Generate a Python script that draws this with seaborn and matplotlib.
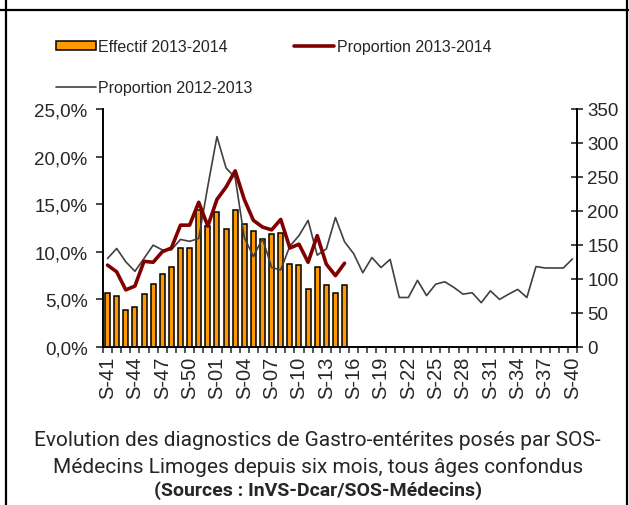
import numpy as np
import pandas as pd
import matplotlib
matplotlib.use("Agg")
import matplotlib.pyplot as plt
from matplotlib.lines import Line2D
from matplotlib.patches import Patch
import seaborn as sns

# ================= DATA =================
WEEKS = [f"S-{w:02d}" for w in list(range(41, 53)) + list(range(1, 41))]

# Effectif 2013-2014 (right axis, S-41 .. S-15)
EFFECTIF_1314 = [80, 75, 54, 59, 78, 93, 108, 117, 145, 145, 202, 178, 199, 174,
                 202, 181, 171, 159, 166, 168, 122, 120, 86, 117, 91, 80, 91]

# Proportion 2013-2014 (%, left axis)
PROP_1314 = [8.6, 7.9, 6.0, 6.4, 9.0, 8.9, 10.0, 10.4, 12.8, 12.8, 15.2, 12.7, 15.5, 16.8,
             18.5, 15.5, 13.3, 12.6, 12.3, 13.4, 10.4, 10.8, 8.9, 11.7, 8.7, 7.5, 8.8]

# Proportion 2012-2013 (%, left axis, full season)
PROP_1213 = [9.3, 10.35, 8.95, 7.95, 9.3, 10.7, 10.2, 10.2, 11.3, 11.1, 11.4,
             16.9, 22.1, 18.8, 17.8, 11.5, 9.5, 11.4, 8.35, 8.1, 10.6,
             11.7, 13.3, 9.65, 10.3, 13.6, 11.05, 9.8, 7.8, 9.4, 8.35, 9.2,
             5.2, 5.2, 7.0, 5.4, 6.6, 6.85, 6.25, 5.55, 5.7, 4.65,
             5.9, 5.0, 5.55, 6.05, 5.2, 8.45, 8.3, 8.3, 8.3, 9.25]

LEFT_TICKS = [0, 5, 10, 15, 20, 25]
RIGHT_TICKS = [0, 50, 100, 150, 200, 250, 300, 350]

TITLE_1 = "Evolution des diagnostics de Gastro-entérites posés par SOS-"
TITLE_2 = "Médecins Limoges depuis six mois, tous âges confondus"
SOURCES = "(Sources : InVS-Dcar/SOS-Médecins)"

ORANGE = "#FF9900"
DARK_RED = "#800000"
GREY = "#404040"

# ================= STYLE =================
sns.set_style("ticks")
plt.rcParams['font.family'] = ['Liberation Sans', 'DejaVu Sans']
CAPTION_FONT = ['Roboto', 'Liberation Sans', 'DejaVu Sans']

fig = plt.figure(figsize=(6.29, 5.06), dpi=100)
ax = fig.add_axes([103 / 629, 1 - 348 / 506, 474 / 629, 238 / 506])
ax2 = ax.twinx()

# bars on the secondary axis (drawn behind the lines)
df_bars = pd.DataFrame({"week": WEEKS[:len(EFFECTIF_1314)], "effectif": EFFECTIF_1314})
sns.barplot(data=df_bars, x="week", y="effectif", order=WEEKS, color=ORANGE,
            saturation=1, edgecolor="black", linewidth=1.1, width=0.55, ax=ax2)

# lines on the primary axis
sns.lineplot(x=np.arange(len(PROP_1213)), y=PROP_1213, ax=ax, color=GREY, linewidth=1.2)
sns.lineplot(x=np.arange(len(PROP_1314)), y=PROP_1314, ax=ax, color=DARK_RED, linewidth=2.6)

ax.set_zorder(ax2.get_zorder() + 1)
ax.patch.set_visible(False)

ax.set_xlim(-0.5, len(WEEKS) - 0.5)
ax.set_ylim(0, 25)
ax2.set_ylim(0, 350)

ax.set_yticks(LEFT_TICKS)
ax.set_yticklabels([f"{v:.1f}%".replace(".", ",") for v in LEFT_TICKS])
ax2.set_yticks(RIGHT_TICKS)
ax2.set_yticklabels([str(v) for v in RIGHT_TICKS])

ax.set_xticks(np.arange(0, len(WEEKS), 3))
ax.set_xticklabels(WEEKS[::3], rotation=90)
ax.set_xticks(np.arange(-0.5, len(WEEKS), 1), minor=True)

ax.tick_params(axis='x', which='major', length=0, pad=6, labelsize=14.5)
ax.tick_params(axis='x', which='minor', length=4, width=1.1, direction='out', bottom=True)
ax.tick_params(axis='y', direction='out', length=5, width=1.2, pad=6, labelsize=13.5, left=True)
ax2.tick_params(axis='y', direction='inout', length=9, width=1.2, pad=3, labelsize=13.5, right=True)

for a in (ax, ax2):
    a.set_xlabel("")
    a.set_ylabel("")
    a.spines['top'].set_visible(False)
    for s in ('left', 'right', 'bottom'):
        a.spines[s].set_linewidth(1.2)
        a.spines[s].set_color("black")

# legend
handles = [Patch(facecolor=ORANGE, edgecolor="black", linewidth=1.1),
           Line2D([], [], color=GREY, linewidth=1.2),
           Line2D([], [], color=DARK_RED, linewidth=2.6)]
labels = ["Effectif 2013-2014", "Proportion 2012-2013", "Proportion 2013-2014"]
fig.legend(handles, labels, ncol=2, loc="upper left", bbox_to_anchor=(56 / 629, 1 - 40 / 506),
           frameon=False, fontsize=11.5, handlelength=2.5, handleheight=0.45,
           handletextpad=0.15, columnspacing=2.6, labelspacing=1.6,
           borderpad=0, borderaxespad=0)

# caption
fig.text(0.505, 1 - 441 / 506, TITLE_1, ha="center", va="center", fontsize=15,
         family=CAPTION_FONT)
fig.text(0.505, 1 - 467 / 506, TITLE_2, ha="center", va="center", fontsize=15,
         family=CAPTION_FONT)
fig.text(0.505, 1 - 491 / 506, SOURCES, ha="center", va="center", fontsize=14,
         fontweight="bold", family=CAPTION_FONT)

# frame of the surrounding table cell
fig.add_artist(Line2D([0, 1], [1 - 11 / 506, 1 - 11 / 506], color="black", linewidth=1.6))
fig.add_artist(Line2D([6 / 629, 6 / 629], [0, 1], color="black", linewidth=1.6))
fig.add_artist(Line2D([627 / 629, 627 / 629], [0, 1], color="black", linewidth=1.6))

fig.savefig("out.png", dpi=100)
